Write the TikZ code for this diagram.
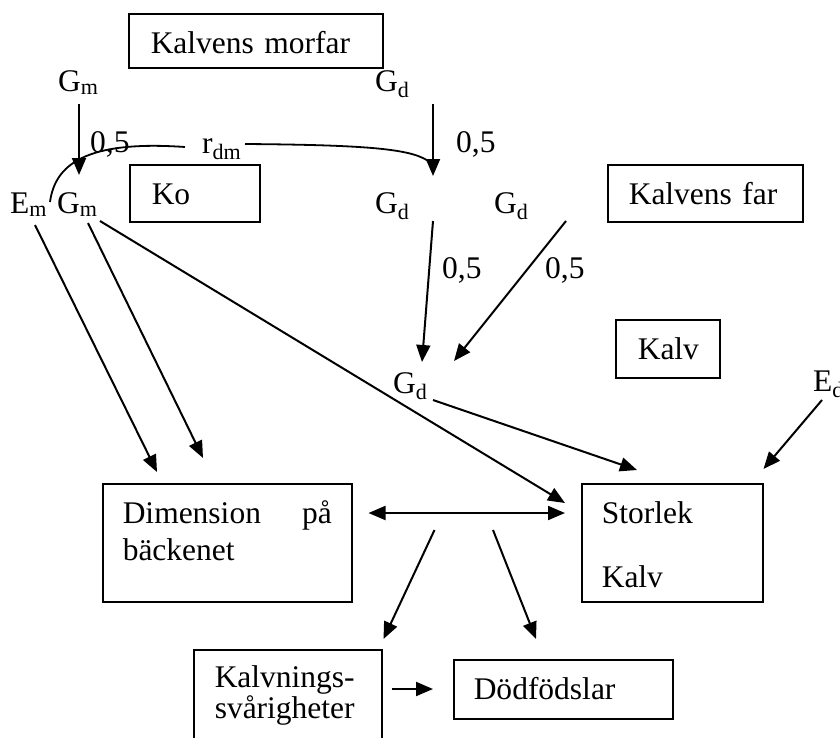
\documentclass[tikz,border=0pt]{standalone}
\usepackage{fontspec}
\setmainfont{Liberation Serif}
\usetikzlibrary{arrows.meta}

\tikzset{
	>={Triangle[length=17pt,width=14pt]},
	box/.style={
		draw,
		line width=1.5pt,
		anchor=north west,
		inner ysep=0pt,
		text height=40pt,
		align=left
	},
	lbl/.style={
		inner sep=0pt,
		anchor=base west
	},
	arr/.style={
		line width=2pt,
		->
	},
	lnk/.style={
		line width=1.8pt
	}
}

\begin{document}
\begin{tikzpicture}[x=1pt, y=-1pt, font=\fontsize{31.5}{37}\selectfont]
	\useasboundingbox (0,0) rectangle (840,737);
	\clip (0,0) rectangle (840,737);

	% boxes
	\node[box, inner xsep=22pt, text width=210pt, text depth=14pt] (morfar) at (128,13) {Kalvens morfar};
	\node[box, inner xsep=22pt, text width=86pt, text depth=17pt] (ko) at (129,164) {Ko};
	\node[box, inner xsep=21pt, text width=153pt, text depth=17pt] (far) at (607,164) {Kalvens far};
	\node[box, inner xsep=22pt, text width=60pt, text depth=18pt] (kalv) at (615,319) {Kalv};
	\node[box, inner xsep=20pt, text width=209pt, text depth=78pt] (dim) at (102,483) {Dimension\hfill på\\bäckenet};
	\node[box, inner xsep=20pt, text width=141pt, text depth=78pt] (sto) at (581,483) {Storlek\\[27pt]Kalv};
	\node[box, inner xsep=21pt, text width=146pt, text height=38pt, text depth=60pt] (kal) at (193,649) {Kalvnings-\\[-6pt]svårigheter};
	\node[box, inner xsep=20pt, text width=179pt, text depth=19pt] (dod) at (453,659) {Dödfödslar};

	% labels
	\node[lbl] (gmA) at (58,91) {G\textsubscript{m}};
	\node[lbl] (gdA) at (375,91) {G\textsubscript{d}};
	\node[lbl] (hA) at (90,152) {0,5};
	\node[lbl] (hB) at (456,152) {0,5};
	\node[lbl] (rdm) at (202,153) {r\textsubscript{dm}};
	\node[lbl] (em) at (10,213) {E\textsubscript{m}};
	\node[lbl] (gmB) at (57,213) {G\textsubscript{m}};
	\node[lbl] (gdB) at (375,213) {G\textsubscript{d}};
	\node[lbl] (gdC) at (494,213) {G\textsubscript{d}};
	\node[lbl] (hC) at (442,278) {0,5};
	\node[lbl] (hD) at (545,278) {0,5};
	\node[lbl] (gdD) at (393,393) {G\textsubscript{d}};
	\node[lbl] (ed) at (813,391) {E\textsubscript{d}};

	% connectors
	\draw[arr] ([shift={(21,13)}]gmA.base west) -- ([shift={(22,-38)}]gmB.base west);
	\draw[arr] ([shift={(58,13)}]gdA.base west) -- ([shift={(58,-37)}]gdB.base west);
	\draw[lnk] ([shift={(40,-11)}]em.base west) .. controls ([shift={(45,-48)}]em.base west) and ([shift={(-117,-13)}]rdm.base west) .. ([shift={(-17,-6)}]rdm.base west);
	\draw[lnk] ([shift={(43,-9)}]rdm.base west) .. controls ([shift={(178,-8)}]rdm.base west) and ([shift={(40,-63)}]gdB.base west) .. ([shift={(56,-50)}]gdB.base west);
	\draw[arr] ([shift={(58,8)}]gdB.base west) -- ([shift={(29,-31)}]gdD.base west);
	\draw[arr] ([shift={(72,8)}]gdC.base west) -- ([shift={(61,-32)}]gdD.base west);
	\draw[arr] ([shift={(25,12)}]em.base west) -- ([shift={(55,-11)}]dim.north west);
	\draw[arr] ([shift={(31,10)}]gmB.base west) -- ([shift={(101,-25)}]dim.north west);
	\draw[arr] ([shift={(43,8)}]gmB.base west) -- ([shift={(-16,20)}]sto.north west);
	\draw[arr] ([shift={(40,7)}]gdD.base west) -- ([shift={(56,-13)}]sto.north west);
	\draw[arr] ([shift={(9,9)}]ed.base west) -- ([shift={(0,-14)}]sto.north east);
	\draw[arr, <->] ([shift={(16,30)}]dim.north east) -- ([shift={(-16,30)}]sto.north west);
	\draw[arr] ([shift={(82,47)}]dim.north east) -- ([shift={(1,-10)}]kal.north east);
	\draw[arr] ([shift={(-88,47)}]sto.north west) -- ([shift={(83,-20)}]dod.north west);
	\draw[arr] ([shift={(9,40)}]kal.north east) -- ([shift={(-20,30)}]dod.north west);
\end{tikzpicture}
\end{document}
